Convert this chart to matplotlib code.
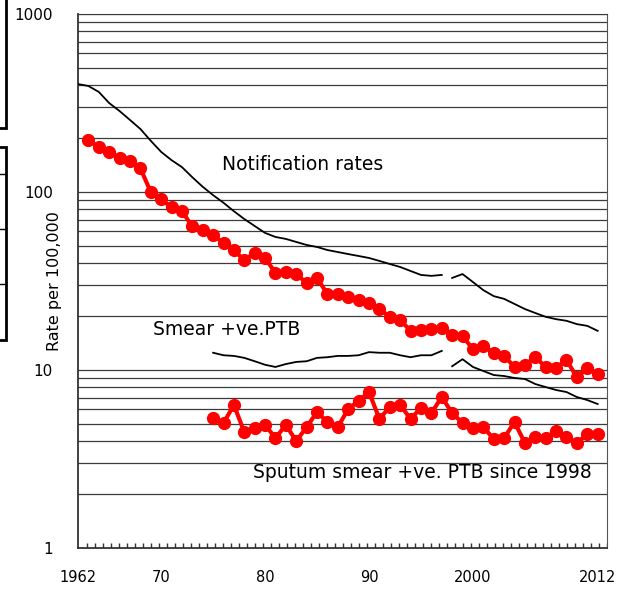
import numpy as np
import matplotlib
matplotlib.use("Agg")
import matplotlib.pyplot as plt
from matplotlib.patches import Rectangle
from matplotlib.ticker import FixedLocator, NullFormatter

# Notification rates (black line), break between 1997 and 1998
notif_years_a = list(range(1962, 1998))
notif_a = [404, 394, 365, 316, 285, 254, 226, 194, 168, 151, 138, 121, 107, 96,
           87, 78, 70.5, 64.4, 58.9, 55.9, 54.5, 52.4, 50.4, 49.1, 47.2, 46.0,
           44.8, 43.7, 42.6, 41.0, 39.4, 37.9, 36.0, 34.2, 33.8, 34.2]
notif_years_b = list(range(1998, 2013))
notif_b = [32.9, 34.6, 31.2, 28.1, 26.0, 25.1, 23.5, 22.0, 20.9, 19.9, 19.3,
           18.9, 18.1, 17.7, 16.6]

# Smear +ve PTB (black line)
smear_years_a = list(range(1975, 1998))
smear_a = [12.5, 12.1, 12.0, 11.7, 11.2, 10.7, 10.4, 10.8, 11.1, 11.2, 11.7,
           11.8, 12.0, 12.0, 12.1, 12.6, 12.5, 12.5, 12.1, 11.8, 12.1, 12.1, 12.8]
smear_years_b = list(range(1998, 2013))
smear_b = [10.5, 11.5, 10.4, 9.87, 9.37, 9.25, 9.02, 8.90, 8.34, 8.02, 7.72,
           7.52, 7.05, 6.78, 6.44]

# red series with markers
red_up_years = list(range(1963, 2013))
red_up = [196, 179, 168, 155, 149, 136, 100, 91, 82, 78, 64, 61, 57, 52, 47,
          41.5, 45.4, 42.6, 35.1, 35.5, 34.6, 30.8, 32.9, 26.7, 26.7, 25.7,
          24.7, 23.8, 22.0, 19.9, 19.1, 16.6, 16.8, 17.0, 17.2, 15.7, 15.5,
          13.1, 13.6, 12.5, 12.0, 10.4, 10.7, 11.8, 10.4, 10.3, 11.4, 9.1,
          10.3, 9.5]
red_low_years = list(range(1975, 2013))
red_low = [5.38, 5.04, 6.36, 4.48, 4.72, 4.91, 4.15, 4.91, 3.99, 4.78, 5.81,
           5.10, 4.78, 6.04, 6.70, 7.52, 5.31, 6.20, 6.36, 5.31, 6.12, 5.73,
           7.05, 5.73, 5.04, 4.72, 4.78, 4.10, 4.15, 5.10, 3.89, 4.20, 4.15,
           4.54, 4.20, 3.89, 4.37, 4.37]

x_ticks = [1962, 1970, 1980, 1990, 2000, 2012]
x_labels = ["1962", "70", "80", "90", "2000", "2012"]
y_ticks = [1, 10, 100, 1000]
y_labels = ["1", "10", "100", "1000"]

plt.rcParams['font.family'] = ['DejaVu Sans']

fig = plt.figure(figsize=(6.3, 5.89), dpi=100)
ax = fig.add_axes([78 / 630, 1 - 548 / 589, 529 / 630, 534 / 589])

# horizontal grid at every log step
grid_vals = [m * 10 ** k for k in range(3) for m in range(2, 11)]
for g in grid_vals:
    ax.axhline(g, color='#3c3c3c', lw=0.9, zorder=1)

ax.plot(notif_years_a, notif_a, color='black', lw=1.3, zorder=3)
ax.plot(notif_years_b, notif_b, color='black', lw=1.3, zorder=3)
ax.plot(smear_years_a, smear_a, color='black', lw=1.3, zorder=3)
ax.plot(smear_years_b, smear_b, color='black', lw=1.3, zorder=3)

ax.plot(red_up_years, red_up, color='#ff0000', lw=3, marker='o', ms=8.5,
        zorder=4)
ax.plot(red_low_years, red_low, color='#ff0000', lw=3, marker='o', ms=8.5,
        zorder=4)

ax.set_yscale('log')
ax.set_ylim(1, 1000)
ax.set_xlim(1962, 2012.9)

ax.yaxis.set_major_locator(FixedLocator(y_ticks))
ax.yaxis.set_minor_locator(FixedLocator([]))
ax.yaxis.set_minor_formatter(NullFormatter())
ax.set_yticklabels(y_labels)
ax.tick_params(axis='y', which='major', length=0, pad=18, labelsize=11)

ax.set_xticks(x_ticks)
ax.set_xticklabels(x_labels)
ax.tick_params(axis='x', which='major', length=0, pad=16, labelsize=10.5)

# small inward marks along the bottom axis
small_ticks = np.arange(1962 + 9 / 10.4, 2012.9, 8 / 10.4)
ax.vlines(small_ticks, 0, 5 / 534, transform=ax.get_xaxis_transform(),
          color='#333333', lw=1.0, zorder=2)

for side in ['left', 'bottom']:
    ax.spines[side].set_color('#333333')
    ax.spines[side].set_linewidth(1.3)
ax.spines['right'].set_color('#555555')
ax.spines['top'].set_color('#3c3c3c')

ax.set_ylabel('Rate per 100,000', fontsize=11.5)
ax.yaxis.set_label_coords(-0.03, 0.5)

ax.text(1975.85, 142, 'Notification rates', fontsize=13.5, va='center',
        ha='left', zorder=5)
ax.text(1969.2, 16.8, 'Smear +ve.PTB', fontsize=13.5, va='center',
        ha='left', zorder=5)
ax.text(1978.8, 2.67, 'Sputum smear +ve. PTB since 1998', fontsize=13.5,
        va='center', ha='left', zorder=5)

# cropped boxes on the left edge of the slide
fig.patches.append(Rectangle((-20 / 630, 1 - 128 / 589), 26 / 630, 140 / 589,
                             transform=fig.transFigure, fill=False,
                             edgecolor='black', lw=2))
fig.patches.append(Rectangle((-20 / 630, 1 - 340 / 589), 26 / 630, 193 / 589,
                             transform=fig.transFigure, fill=False,
                             edgecolor='black', lw=2))
for py in [174, 229, 284]:
    fig.lines.append(plt.Line2D([0, 6 / 630], [1 - py / 589, 1 - py / 589],
                                transform=fig.transFigure, color='black',
                                lw=1))

fig.savefig('out.png', dpi=100)
